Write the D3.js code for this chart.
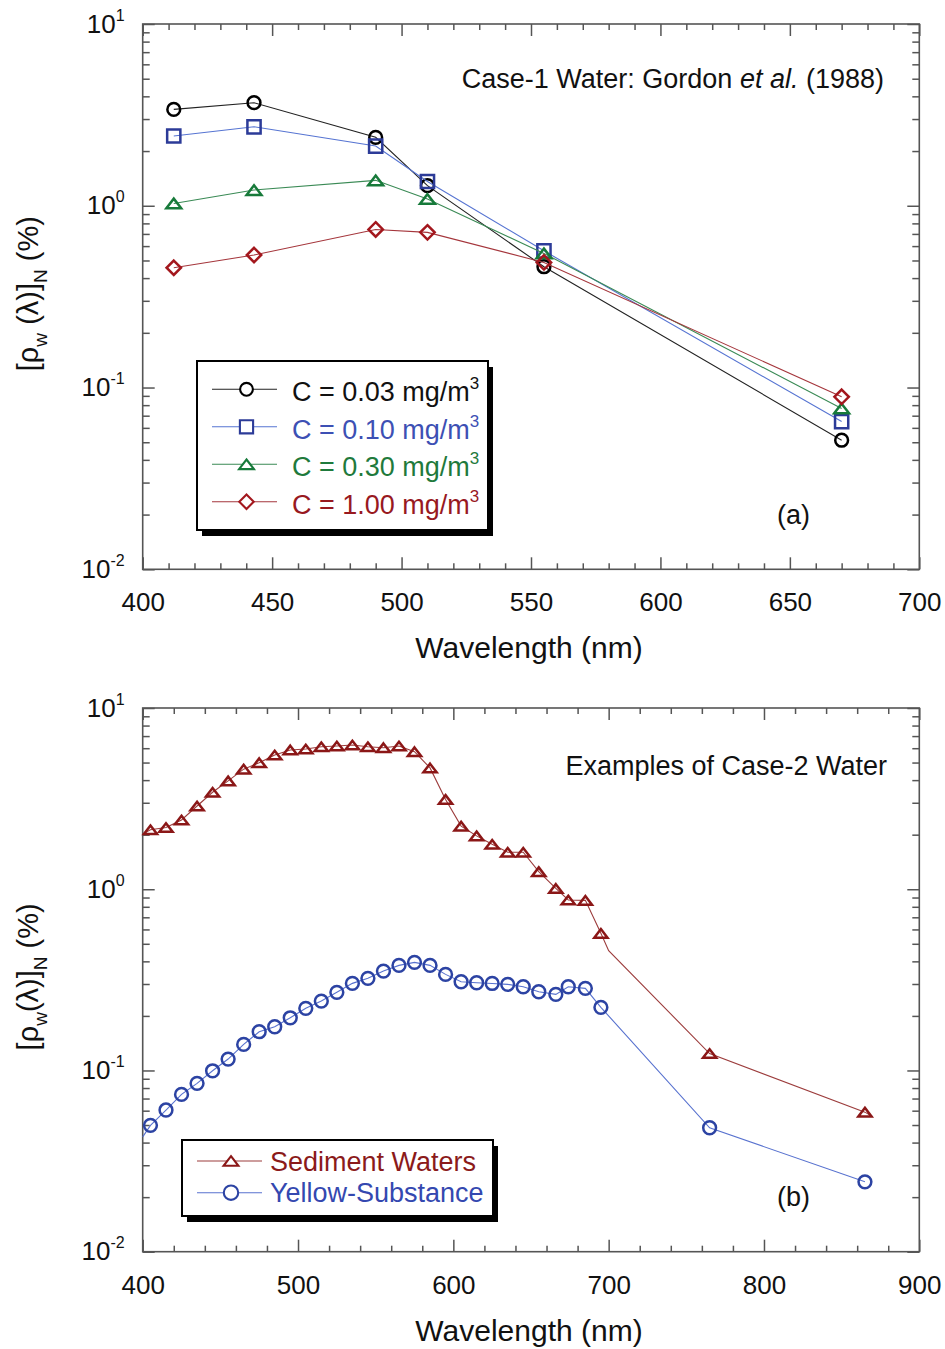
<!DOCTYPE html>
<html>
<head>
<meta charset="utf-8">
<script src="https://d3js.org/d3.v7.min.js"></script>
<style>
  body { margin: 0; background: #fff; }
  svg text { font-family: "Liberation Sans", Arial, Helvetica, sans-serif; }
</style>
</head>
<body>
<div id="chart"></div>
<script>

// ---- Panel (a): Case-1 water, Gordon et al. (1988) ----
const bandsA = [412, 443, 490, 510, 555, 670];
const chl003 = [3.39, 3.69, 2.38, 1.29, 0.462, 0.0513];
const chl010 = [2.42, 2.72, 2.13, 1.36, 0.565, 0.065];
const chl030 = [1.03, 1.22, 1.38, 1.09, 0.547, 0.0767];
const chl100 = [0.456, 0.536, 0.741, 0.714, 0.488, 0.0889];
const chlLabels = ["C = 0.03 mg/m", "C = 0.10 mg/m", "C = 0.30 mg/m", "C = 1.00 mg/m"];
const xTicksA = [400, 450, 500, 550, 600, 650, 700];

// ---- Panel (b): Case-2 water examples ----
const bandsB = [405, 415, 425, 435, 445, 455, 465, 475, 485, 495,
                505, 515, 525, 535, 545, 555, 565, 575, 585, 595,
                605, 615, 625, 635, 645, 655, 666, 674, 685, 695, 765, 865];
const sedimentVal = [2.13, 2.19, 2.41, 2.88, 3.43, 3.96, 4.60, 4.99, 5.50, 5.87,
                     5.94, 6.11, 6.17, 6.25, 6.11, 6.04, 6.17, 5.74, 4.67, 3.13,
                     2.23, 1.97, 1.77, 1.60, 1.60, 1.25, 1.01, 0.872, 0.868, 0.571, 0.124, 0.0589];
const yellowVal = [0.0498, 0.0605, 0.0738, 0.0849, 0.0996, 0.1156, 0.1393, 0.1636, 0.1743, 0.1953,
                   0.2202, 0.2415, 0.2698, 0.3024, 0.3224, 0.3536, 0.380, 0.395, 0.380, 0.339,
                   0.3087, 0.3048, 0.302, 0.2986, 0.2897, 0.2719, 0.263, 0.2897, 0.2839, 0.223, 0.0483, 0.0243];
// extra vertices of the continuous curves (no marker drawn there)
const sedimentCurveWl = [400, 700, 870];
const sedimentCurveVal = [2.02, 0.458, 0.0555];
const yellowCurveWl = [400];
const yellowCurveVal = [0.043];
const caseLabels = ["Sediment Waters", "Yellow-Substance"];
const xTicksB = [400, 500, 600, 700, 800, 900];

const yExponents = [1, 0, -1, -2];

// ---- layout ----
const W = 945, H = 1349;
const ink = "#111", axisCol = "#555";

const svg = d3.select("#chart").append("svg")
    .attr("width", W)
    .attr("height", H);
svg.append("rect").attr("width", W).attr("height", H).attr("fill", "#fff");

// marker shapes, centred on the point
function markerPath(type, s) {
  const p = d3.path();
  if (type === "circle") {
    p.moveTo(s, 0); p.arc(0, 0, s, 0, 2 * Math.PI);
  } else if (type === "square") {
    p.rect(-s, -s, 2 * s, 2 * s);
  } else if (type === "triangle") {
    const w = s * 2, h = s * 1.3;
    p.moveTo(0, -h / 2); p.lineTo(w / 2, h / 2); p.lineTo(-w / 2, h / 2); p.closePath();
  } else {
    p.moveTo(0, -s); p.lineTo(s, 0); p.lineTo(0, s); p.lineTo(-s, 0); p.closePath();
  }
  return p.toString();
}

function drawPanel(p) {
  const x = d3.scaleLinear().domain(p.xDomain).range([p.left, p.right]);
  const y = d3.scaleLog().domain([0.01, 10]).range([p.bottom, p.top]);
  const g = svg.append("g");

  const xMinor = d3.range(p.xDomain[0], p.xDomain[1] + 1, p.minorStep)
      .filter(v => !p.xTicks.includes(v));
  const yMajor = yExponents.map(e => Math.pow(10, e));
  const yMinor = [];
  [-2, -1, 0].forEach(e => d3.range(2, 10).forEach(m => yMinor.push(m * Math.pow(10, e))));

  const style = sel => {
    sel.select(".domain").remove();
    sel.selectAll("line").attr("stroke", axisCol).attr("stroke-width", 1.5);
  };

  // bottom
  g.append("g").attr("transform", `translate(0,${p.bottom})`)
    .call(d3.axisBottom(x).tickValues(p.xTicks).tickSizeInner(-12).tickSizeOuter(0).tickFormat(d3.format("d")))
    .call(style)
    .call(a => a.selectAll("text").attr("y", 42).attr("dy", null)
        .attr("font-size", 26).attr("fill", ink).attr("font-family", null));
  g.append("g").attr("transform", `translate(0,${p.bottom})`)
    .call(d3.axisBottom(x).tickValues(xMinor).tickSizeInner(-6).tickSizeOuter(0).tickFormat(""))
    .call(style);
  // top
  g.append("g").attr("transform", `translate(0,${p.top})`)
    .call(d3.axisTop(x).tickValues(p.xTicks).tickSizeInner(-12).tickSizeOuter(0).tickFormat(""))
    .call(style);
  g.append("g").attr("transform", `translate(0,${p.top})`)
    .call(d3.axisTop(x).tickValues(xMinor).tickSizeInner(-6).tickSizeOuter(0).tickFormat(""))
    .call(style);
  // left
  g.append("g").attr("transform", `translate(${p.left},0)`)
    .call(d3.axisLeft(y).tickValues(yMajor).tickSizeInner(-12).tickSizeOuter(0).tickFormat(""))
    .call(style);
  g.append("g").attr("transform", `translate(${p.left},0)`)
    .call(d3.axisLeft(y).tickValues(yMinor).tickSizeInner(-7).tickSizeOuter(0).tickFormat(""))
    .call(style);
  // right
  g.append("g").attr("transform", `translate(${p.right},0)`)
    .call(d3.axisRight(y).tickValues(yMajor).tickSizeInner(-12).tickSizeOuter(0).tickFormat(""))
    .call(style);
  g.append("g").attr("transform", `translate(${p.right},0)`)
    .call(d3.axisRight(y).tickValues(yMinor).tickSizeInner(-7).tickSizeOuter(0).tickFormat(""))
    .call(style);

  // frame
  g.append("rect")
    .attr("x", p.left).attr("y", p.top)
    .attr("width", p.right - p.left).attr("height", p.bottom - p.top)
    .attr("fill", "none").attr("stroke", axisCol).attr("stroke-width", 1.6);

  // y tick labels 10^n
  yExponents.forEach(e => {
    const t = g.append("text")
      .attr("x", p.left - 18)
      .attr("y", y(Math.pow(10, e)) + 8.5)
      .attr("text-anchor", "end")
      .attr("font-size", 26).attr("fill", ink);
    t.append("tspan").text("10");
    t.append("tspan").attr("dy", -12).attr("font-size", 16).text(e);
  });

  // x axis title
  g.append("text")
    .attr("x", (p.left + p.right) / 2 - 2)
    .attr("y", p.bottom + 89)
    .attr("text-anchor", "middle")
    .attr("font-size", 30).attr("fill", ink)
    .text("Wavelength (nm)");

  // y axis title
  const yt = g.append("text")
    .attr("transform", `translate(38,${(p.top + p.bottom) / 2 - 3}) rotate(-90)`)
    .attr("text-anchor", "middle")
    .attr("font-size", 29).attr("fill", ink);
  yt.append("tspan").text("[ρ");
  yt.append("tspan").attr("dy", 9).attr("font-size", 19).text("w");
  yt.append("tspan").attr("dy", -9).text(p.spaced ? " (λ)]" : "(λ)]");
  yt.append("tspan").attr("dy", 9).attr("font-size", 19).text("N");
  yt.append("tspan").attr("dy", -9).text(" (%)");

  return { x, y, g };
}

function drawSeries(panel, s) {
  const line = d3.line().x(d => panel.x(d[0])).y(d => panel.y(d[1]));
  panel.g.append("path")
    .datum(s.curve)
    .attr("d", line)
    .attr("fill", "none")
    .attr("stroke", s.lineColor)
    .attr("stroke-width", 1.1);
  panel.g.append("g").selectAll("path")
    .data(s.points)
    .join("path")
      .attr("transform", d => `translate(${panel.x(d[0])},${panel.y(d[1])})`)
      .attr("d", markerPath(s.shape, s.size))
      .attr("fill", "none")
      .attr("stroke", s.color)
      .attr("stroke-width", 2.5);
}

function drawLegend(panel, box, items) {
  const g = panel.g.append("g");
  g.append("rect")
    .attr("x", box.x + 5).attr("y", box.y + 6)
    .attr("width", box.w).attr("height", box.h)
    .attr("fill", "#000");
  g.append("rect")
    .attr("x", box.x).attr("y", box.y)
    .attr("width", box.w).attr("height", box.h)
    .attr("fill", "#fff").attr("stroke", "#000").attr("stroke-width", 2);
  items.forEach((it, i) => {
    const ry = box.y + box.first + i * box.step;
    g.append("line")
      .attr("x1", box.x + 15).attr("x2", box.x + box.lineEnd)
      .attr("y1", ry).attr("y2", ry)
      .attr("stroke", it.lineColor).attr("stroke-width", 1.1);
    g.append("path")
      .attr("transform", `translate(${box.x + box.markX},${ry})`)
      .attr("d", markerPath(it.shape, it.size))
      .attr("fill", "#fff").attr("stroke", it.color).attr("stroke-width", 2.1);
    const t = g.append("text")
      .attr("x", box.x + box.textX).attr("y", ry + box.baseline)
      .attr("font-size", 27).attr("fill", it.textColor);
    t.append("tspan").text(it.label);
    if (it.sup) t.append("tspan").attr("dy", -12).attr("font-size", 17).text(it.sup);
  });
}

// ---------- panel (a) ----------
const pa = drawPanel({
  left: 142.7, right: 919.3, top: 24, bottom: 569.3,
  xDomain: [400, 700], xTicks: xTicksA, minorStep: 10, spaced: true
});

const seriesA = [
  { values: chl003, shape: "circle",   size: 6.4, color: "#000",    lineColor: "#222",    textColor: "#111" },
  { values: chl010, shape: "square",   size: 6.6, color: "#2c3b98", lineColor: "#5674d2", textColor: "#3d50b4" },
  { values: chl030, shape: "triangle", size: 7.4, color: "#177a3a", lineColor: "#3a8a55", textColor: "#1f7a3c" },
  { values: chl100, shape: "diamond",  size: 7.2, color: "#a3171d", lineColor: "#a5363c", textColor: "#98191f" }
];
seriesA.forEach(s => {
  const pts = bandsA.map((w, i) => [w, s.values[i]]);
  drawSeries(pa, { points: pts, curve: pts, shape: s.shape, size: s.size, color: s.color, lineColor: s.lineColor });
});

pa.g.append("text")
  .attr("x", 884).attr("y", 88)
  .attr("text-anchor", "end")
  .attr("font-size", 27).attr("fill", ink)
  .call(t => {
    t.append("tspan").text("Case-1 Water: Gordon ");
    t.append("tspan").attr("font-style", "italic").text("et al.");
    t.append("tspan").text(" (1988)");
  });
pa.g.append("text")
  .attr("x", 777).attr("y", 524)
  .attr("font-size", 27).attr("fill", ink)
  .text("(a)");

drawLegend(pa,
  { x: 197, y: 361, w: 291, h: 169, first: 28.3, step: 37.5, lineEnd: 80, markX: 49.5, textX: 95, baseline: 12 },
  seriesA.map((s, i) => ({
    shape: s.shape, size: s.size, color: s.color, lineColor: s.lineColor, textColor: s.textColor,
    label: chlLabels[i], sup: "3"
  })));

// ---------- panel (b) ----------
const pb = drawPanel({
  left: 142.7, right: 919.3, top: 708, bottom: 1251.7,
  xDomain: [400, 900], xTicks: xTicksB, minorStep: 20, spaced: false
});

const seriesB = [
  { values: sedimentVal, extraWl: sedimentCurveWl, extraVal: sedimentCurveVal,
    shape: "triangle", size: 6.6, color: "#8b1717", lineColor: "#9c3c3c", textColor: "#8b1a1a" },
  { values: yellowVal, extraWl: yellowCurveWl, extraVal: yellowCurveVal,
    shape: "circle", size: 6.4, color: "#2c43a3", lineColor: "#5872cf", textColor: "#3448b0" }
];
seriesB.forEach(s => {
  const pts = bandsB.map((w, i) => [w, s.values[i]]);
  const curve = pts.concat(s.extraWl.map((w, i) => [w, s.extraVal[i]]))
      .sort((a, b) => a[0] - b[0]);
  drawSeries(pb, { points: pts, curve: curve, shape: s.shape, size: s.size, color: s.color, lineColor: s.lineColor });
});

pb.g.append("text")
  .attr("x", 887).attr("y", 775)
  .attr("text-anchor", "end")
  .attr("font-size", 27).attr("fill", ink)
  .text("Examples of Case-2 Water");
pb.g.append("text")
  .attr("x", 777).attr("y", 1206)
  .attr("font-size", 27).attr("fill", ink)
  .text("(b)");

drawLegend(pb,
  { x: 182, y: 1140, w: 311, h: 76, first: 21, step: 31.7, lineEnd: 80, markX: 49, textX: 88, baseline: 9.5 },
  seriesB.map((s, i) => ({
    shape: s.shape, size: s.size + 0.8, color: s.color, lineColor: s.lineColor, textColor: s.textColor,
    label: caseLabels[i]
  })));

</script>
</body>
</html>
